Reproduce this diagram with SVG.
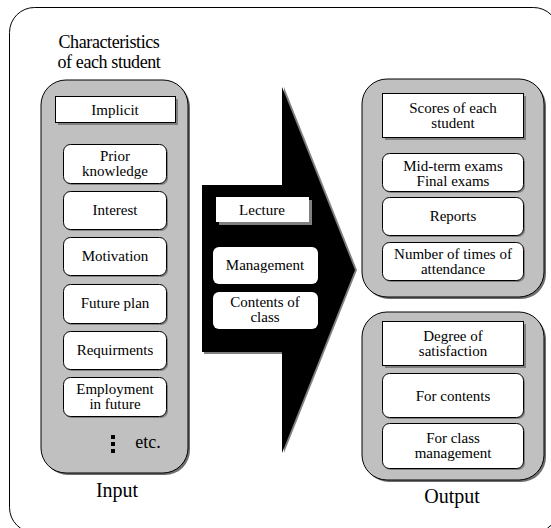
<svg xmlns="http://www.w3.org/2000/svg" width="551" height="528" viewBox="0 0 551 528" font-family="'Liberation Serif', 'Times New Roman', 'DejaVu Serif', serif">
<style>
text{font-family:"Liberation Serif","Times New Roman","DejaVu Serif",serif;fill:#000;text-anchor:middle}
.t{font-size:15px}
.big{font-size:20px}
.hd{font-size:18px;letter-spacing:-0.4px}
.panel{fill:#c0c0c0;stroke:#000;stroke-width:1}
.pshadow{fill:#6e6e6e}
.box{fill:#fff;stroke:#000;stroke-width:1}
.rbox{fill:#fff;stroke:#000;stroke-width:1}
.bshadow{fill:#808080}
</style>
<rect x="9.5" y="7.5" width="549" height="525" rx="25" fill="#fff" stroke="#000" stroke-width="1"/>

<g id="input-panel">
<rect class="pshadow" x="43" y="82" width="147" height="393" rx="25"/>
<rect class="panel" x="41" y="80" width="147" height="393" rx="25"/>
<text class="hd" x="109" y="48">Characteristics</text>
<text class="hd" x="109" y="68">of each student</text>
<text class="big" x="117" y="497">Input</text>
</g>

<g id="implicit">
<rect class="bshadow" x="58" y="99" width="120" height="26"/>
<rect class="box" x="55.5" y="96.5" width="120" height="26"/>
<text class="t" x="115" y="115">Implicit</text>
</g>
<g id="prior">
<rect class="bshadow" x="65" y="146" width="103" height="39" rx="7"/>
<rect class="rbox" x="63.5" y="144.5" width="103" height="39" rx="7"/>
<text class="t" x="115" y="161">Prior</text>
<text class="t" x="115" y="176">knowledge</text>
</g>
<g id="interest">
<rect class="bshadow" x="65" y="193" width="103" height="38" rx="7"/>
<rect class="rbox" x="63.5" y="191.5" width="103" height="38" rx="7"/>
<text class="t" x="115" y="215">Interest</text>
</g>
<g id="motivation">
<rect class="bshadow" x="65" y="239" width="103" height="38" rx="7"/>
<rect class="rbox" x="63.5" y="237.5" width="103" height="38" rx="7"/>
<text class="t" x="115" y="261">Motivation</text>
</g>
<g id="futureplan">
<rect class="bshadow" x="65" y="286" width="103" height="39" rx="7"/>
<rect class="rbox" x="63.5" y="284.5" width="103" height="39" rx="7"/>
<text class="t" x="115" y="308">Future plan</text>
</g>
<g id="requirements">
<rect class="bshadow" x="65" y="333" width="103" height="38" rx="7"/>
<rect class="rbox" x="63.5" y="331.5" width="103" height="38" rx="7"/>
<text class="t" x="115" y="355">Requirments</text>
</g>
<g id="employment">
<rect class="bshadow" x="65" y="379" width="103" height="39" rx="7"/>
<rect class="rbox" x="63.5" y="377.5" width="103" height="39" rx="7"/>
<text class="t" x="115" y="394">Employment</text>
<text class="t" x="115" y="409">in future</text>
</g>
<g id="etc">
<rect x="111" y="435" width="4" height="4" fill="#000"/>
<rect x="111" y="442" width="4" height="4" fill="#000"/>
<rect x="111" y="449" width="4" height="4" fill="#000"/>
<text x="148" y="448" style="font-size:18px">etc.</text>
</g>

<g id="connectors">
<polygon points="284,87 357,270 284,453 284,354 204,354 204,187 284,187" fill="#808080"/>
<polygon points="282,87 355,270 282,453 282,352 202,352 202,185 282,185" fill="#000"/>
</g>

<g id="lecture">
<rect class="bshadow" x="219" y="200" width="93" height="25"/>
<rect x="216" y="197" width="93" height="25" fill="#fff"/>
<text class="t" x="262" y="215">Lecture</text>
</g>
<g id="management">
<rect x="213" y="247" width="105" height="37" rx="6" fill="#fff"/>
<text class="t" x="265" y="270">Management</text>
</g>
<g id="contents">
<rect x="213" y="292" width="105" height="37" rx="6" fill="#fff"/>
<text class="t" x="265" y="307">Contents of</text>
<text class="t" x="265" y="322">class</text>
</g>

<g id="scores-panel">
<rect class="pshadow" x="364" y="81" width="182" height="218" rx="25"/>
<rect class="panel" x="362" y="79" width="182" height="218" rx="25"/>
</g>
<g id="scores">
<rect class="bshadow" x="385" y="96" width="141" height="44"/>
<rect class="box" x="382.5" y="93.5" width="141" height="44"/>
<text class="t" x="453" y="113">Scores of each</text>
<text class="t" x="453" y="128">student</text>
</g>
<g id="exams">
<rect class="bshadow" x="384" y="155" width="141" height="38" rx="7"/>
<rect class="rbox" x="382.5" y="153.5" width="141" height="38" rx="7"/>
<text class="t" x="453" y="171">Mid-term exams</text>
<text class="t" x="453" y="186">Final exams</text>
</g>
<g id="reports">
<rect class="bshadow" x="384" y="199" width="141" height="38" rx="7"/>
<rect class="rbox" x="382.5" y="197.5" width="141" height="38" rx="7"/>
<text class="t" x="453" y="221">Reports</text>
</g>
<g id="attendance">
<rect class="bshadow" x="384" y="244" width="141" height="38" rx="7"/>
<rect class="rbox" x="382.5" y="242.5" width="141" height="38" rx="7"/>
<text class="t" x="453" y="259">Number of times of</text>
<text class="t" x="453" y="274">attendance</text>
</g>

<g id="satisfaction-panel">
<rect class="pshadow" x="364" y="314" width="182" height="168" rx="25"/>
<rect class="panel" x="362" y="312" width="182" height="168" rx="25"/>
<text class="big" x="452" y="503">Output</text>
</g>
<g id="degree">
<rect class="bshadow" x="385" y="324" width="141" height="44"/>
<rect class="box" x="382.5" y="321.5" width="141" height="44"/>
<text class="t" x="453" y="341">Degree of</text>
<text class="t" x="453" y="356">satisfaction</text>
</g>
<g id="forcontents">
<rect class="bshadow" x="384" y="375" width="141" height="44" rx="7"/>
<rect class="rbox" x="382.5" y="373.5" width="141" height="44" rx="7"/>
<text class="t" x="453" y="401">For contents</text>
</g>
<g id="forclass">
<rect class="bshadow" x="384" y="425" width="141" height="45" rx="7"/>
<rect class="rbox" x="382.5" y="423.5" width="141" height="45" rx="7"/>
<text class="t" x="453" y="443">For class</text>
<text class="t" x="453" y="458">management</text>
</g>
</svg>
